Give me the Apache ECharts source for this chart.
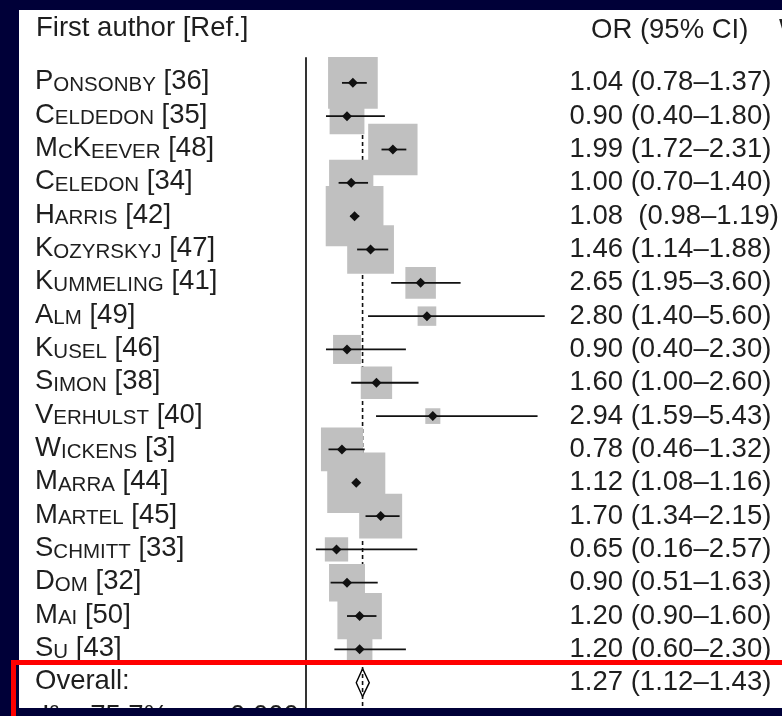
<!DOCTYPE html>
<html><head><meta charset="utf-8">
<script src="https://cdn.jsdelivr.net/npm/echarts@6/dist/echarts.min.js"></script>
<style>html,body{margin:0;padding:0;background:#fff}#c{width:782px;height:716px}</style>
</head><body><div id="c"></div>
<script>
// ---- data ----
const authors = ['Ponsonby','Celdedon','McKeever','Celedon','Harris','Kozyrskyj','Kummeling','Alm','Kusel','Simon','Verhulst','Wickens','Marra','Martel','Schmitt','Dom','Mai','Su'];
const refs = [36,35,48,34,42,47,41,49,46,38,40,3,44,45,33,32,50,43];
const orValues = [1.04,0.90,1.99,1.00,1.08,1.46,2.65,2.80,0.90,1.60,2.94,0.78,1.12,1.70,0.65,0.90,1.20,1.20];
const ciLow = [0.78,0.40,1.72,0.70,0.98,1.14,1.95,1.40,0.40,1.00,1.59,0.46,1.08,1.34,0.16,0.51,0.90,0.60];
const ciHigh = [1.37,1.80,2.31,1.40,1.19,1.88,3.60,5.60,2.30,2.60,5.43,1.32,1.16,2.15,2.57,1.63,1.60,2.30];
const weights = [8.71,4.28,8.60,6.92,11.77,7.72,3.29,1.23,2.75,3.47,0.80,6.24,11.91,6.52,1.92,4.56,6.98,2.31];
const ciLabels = ['1.04 (0.78–1.37)','0.90 (0.40–1.80)','1.99 (1.72–2.31)','1.00 (0.70–1.40)','1.08  (0.98–1.19)','1.46 (1.14–1.88)','2.65 (1.95–3.60)','2.80 (1.40–5.60)','0.90 (0.40–2.30)','1.60 (1.00–2.60)','2.94 (1.59–5.43)','0.78 (0.46–1.32)','1.12 (1.08–1.16)','1.70 (1.34–2.15)','0.65 (0.16–2.57)','0.90 (0.51–1.63)','1.20 (0.90–1.60)','1.20 (0.60–2.30)'];
const overallOR = 1.27, overallLow = 1.12, overallHigh = 1.43;
const overallLabel = '1.27 (1.12–1.43)';
const overallName = 'Overall:';
const heterogeneity = 'I² = 75.7%, p = 0.000';
const headerLeft = 'First author [Ref.]';
const headerRight = 'OR (95% CI)';
const headerWeight = 'Weight';

// ---- build ----
const FONT = 'Liberation Sans, Arial, Helvetica, sans-serif';
const TXT = '#1e1e1e';
const FS = 27.5;
const nStudies = authors.length;
const overallRow = nStudies + 1;

function smallCaps(name){
  let out = '', cur = null, buf = '';
  for (const ch of name){
    const st = (ch === ch.toUpperCase()) ? 'b' : 's';
    if (st !== cur){ if (buf) out += '{' + cur + '|' + buf + '}'; buf = ''; cur = st; }
    buf += (st === 's') ? ch.toUpperCase() : ch;
  }
  if (buf) out += '{' + cur + '|' + buf + '}';
  return out;
}
function rowOf(v){
  const r = Math.round(v);
  return Math.abs(v - r) < 1e-6 ? r : null;
}
const rich = {
  b: {fontSize: FS, lineHeight: 28, verticalAlign: 'bottom', color: TXT, fontFamily: FONT},
  s: {fontSize: 20.5, lineHeight: 23, verticalAlign: 'bottom', color: TXT, fontFamily: FONT}
};

const boxData = orValues.map((v, i) => {
  const side = Math.sqrt(weights[i] * 292);
  return {value: [v, i + 1], symbolSize: [side * 0.985, side * 1.025]};
});
const ciData = orValues.map((v, i) => [ciLow[i], ciHigh[i], i + 1]);
const pointData = orValues.map((v, i) => [v, i + 1]);

const chart = echarts.init(document.getElementById('c'), null, {renderer: 'canvas'});
chart.setOption({
  animation: false,
  backgroundColor: '#ffffff',
  grid: {left: 306, top: 57.875, width: 256.4, height: 661.6, containLabel: false},
  xAxis: {type: 'value', min: -0.075, max: 6, show: false},
  yAxis: [{
    type: 'value', inverse: true, min: 0.25, max: 20, interval: 0.25, position: 'left',
    axisLine: {show: true, onZero: false, lineStyle: {color: '#000', width: 1.6}},
    axisTick: {show: false}, splitLine: {show: false},
    axisLabel: {
      align: 'left', margin: 271, rich: rich, padding: [0, 0, 2, 0],
      formatter: function(v){
        const r = rowOf(v);
        if (r === null) return '';
        if (r >= 1 && r <= nStudies) return smallCaps(authors[r - 1]) + '{b| [' + refs[r - 1] + ']}';
        if (r === overallRow) return '{b|' + overallName + '}';
        return '';
      }
    }
  }, {
    type: 'value', inverse: true, min: 0.25, max: 20, interval: 0.25, position: 'right',
    axisLine: {show: false, onZero: false}, axisTick: {show: false}, splitLine: {show: false},
    axisLabel: {
      align: 'left', margin: 8, color: TXT, fontSize: FS, fontFamily: FONT, padding: [0, 0, 2, 0],
      formatter: function(v){
        const r = rowOf(v);
        if (r === null) return '';
        if (r >= 1 && r <= nStudies) return ciLabels[r - 1];
        if (r === overallRow) return overallLabel;
        return '';
      }
    }
  }],
  series: [
    { // overall diamond
      type: 'custom', z: 1, silent: true,
      data: [[overallLow, overallOR, overallHigh, overallRow]],
      encode: {x: [0, 1, 2], y: 3},
      renderItem: function(params, api){
        const y = api.value(3);
        const a = api.coord([api.value(0), y]);
        const m = api.coord([api.value(1), y]);
        const b = api.coord([api.value(2), y]);
        const h = api.size([0, 1])[1] * 0.42;
        return {type: 'polygon', shape: {points: [[a[0], a[1]], [m[0], m[1] - h], [b[0], b[1]], [m[0], m[1] + h]]},
          style: {fill: '#fff', stroke: '#000', lineWidth: 1.4}};
      }
    },
    { // dashed overall line
      type: 'custom', z: 2, silent: true,
      data: [[overallOR, 0.25, 20]],
      encode: {x: 0, y: [1, 2]},
      renderItem: function(params, api){
        const p1 = api.coord([api.value(0), api.value(1)]);
        const p2 = api.coord([api.value(0), api.value(2)]);
        return {type: 'line', shape: {x1: p1[0], y1: p1[1], x2: p2[0], y2: p2[1]},
          style: {stroke: '#111', lineWidth: 1.6, lineDash: [4, 3]}};
      }
    },
    { // weight boxes
      type: 'scatter', z: 3, silent: true, symbol: 'rect',
      itemStyle: {color: '#c0c0c0', opacity: 1},
      data: boxData
    },
    { // CI lines
      type: 'custom', z: 4, silent: true,
      data: ciData,
      encode: {x: [0, 1], y: 2},
      renderItem: function(params, api){
        const p1 = api.coord([api.value(0), api.value(2)]);
        const p2 = api.coord([api.value(1), api.value(2)]);
        return {type: 'line', shape: {x1: p1[0], y1: p1[1], x2: p2[0], y2: p2[1]},
          style: {stroke: '#111', lineWidth: 1.8}};
      }
    },
    { // point estimates
      type: 'scatter', z: 5, silent: true, symbol: 'diamond', symbolSize: 10,
      itemStyle: {color: '#111', opacity: 1},
      data: pointData
    }
  ],
  graphic: [
    {type: 'text', x: 36, y: 28, z: 50, style: {text: headerLeft, font: FS + 'px ' + FONT, fill: TXT, verticalAlign: 'middle'}},
    {type: 'text', x: 591, y: 30, z: 50, style: {text: headerRight, font: FS + 'px ' + FONT, fill: TXT, verticalAlign: 'middle'}},
    {type: 'text', x: 779, y: 30, z: 50, style: {text: headerWeight, font: FS + 'px ' + FONT, fill: TXT, verticalAlign: 'middle'}},
    {type: 'text', x: 42, y: 716.5, z: 50, style: {text: heterogeneity, font: FS + 'px ' + FONT, fill: TXT, verticalAlign: 'middle'}},
    {type: 'rect', z: 100, shape: {x: 0, y: 0, width: 782, height: 10}, style: {fill: '#000038'}},
    {type: 'rect', z: 100, shape: {x: 0, y: 0, width: 19, height: 716}, style: {fill: '#000038'}},
    {type: 'rect', z: 100, shape: {x: 0, y: 708, width: 782, height: 8}, style: {fill: '#000038'}},
    {type: 'rect', z: 110, shape: {x: 13.5, y: 662.5, width: 900, height: 200}, style: {fill: 'none', stroke: '#ff0000', lineWidth: 5}}
  ]
});
</script>
</body></html>
